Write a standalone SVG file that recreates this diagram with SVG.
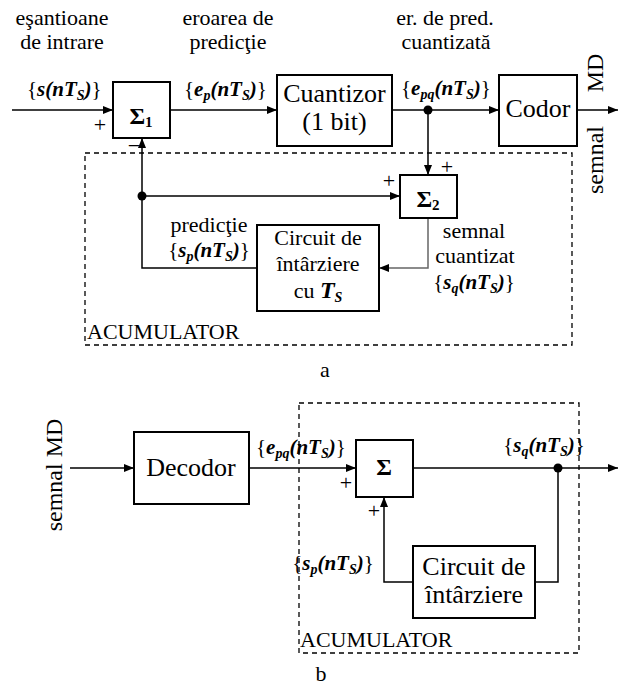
<svg xmlns="http://www.w3.org/2000/svg" width="618" height="687" viewBox="0 0 618 687" font-family="'Liberation Serif', 'Times New Roman', serif">
<defs>
<marker id="ah" viewBox="0 0 10 8" refX="10" refY="4" markerWidth="10" markerHeight="8" markerUnits="userSpaceOnUse" orient="auto">
<path d="M0,0 L10,4 L0,8 z" fill="#000"/>
</marker>
</defs>
<style>
svg, text, tspan { font-family: 'Liberation Serif', 'Times New Roman', serif; }
text{fill:#000}
.lb{font-size:22px}
.bx{font-size:26px}
.ml{font-size:21px}
.bi{font-weight:bold;font-style:italic}
.sb{font-size:14px}
.sg{font-size:24px;font-weight:bold}
.sgs{font-size:15px;font-weight:bold}
.box{fill:#fff;stroke:#000;stroke-width:2}
.ln{fill:none;stroke:#000;stroke-width:1.5}
.lg{fill:none;stroke:#666;stroke-width:1.5}
.dash{fill:none;stroke:#000;stroke-width:1.3;stroke-dasharray:5,4}
.m{text-anchor:middle}
</style>
<rect width="618" height="687" fill="#fff"/>

<!-- ===== Diagram a ===== -->
<g id="accumulator-a">
<rect class="dash" x="85" y="153" width="487" height="192"/>
<text class="lb" x="87" y="339">ACUMULATOR</text>
</g>

<g id="connectors-a">
<line class="ln" x1="12" y1="110" x2="113" y2="110" marker-end="url(#ah)"/>
<line class="ln" x1="170" y1="110" x2="277" y2="110" marker-end="url(#ah)"/>
<line class="ln" x1="392" y1="110" x2="499" y2="110" marker-end="url(#ah)"/>
<line class="ln" x1="577" y1="110" x2="618" y2="110" marker-end="url(#ah)"/>
<line class="ln" x1="428" y1="110" x2="428" y2="175" marker-end="url(#ah)"/>
<circle cx="428" cy="110" r="4.5" fill="#000"/>
<polyline class="ln" points="257,268 142,268 142,138" marker-end="url(#ah)"/>
<line class="ln" x1="142" y1="196" x2="400" y2="196" marker-end="url(#ah)"/>
<circle cx="142" cy="196" r="4.5" fill="#000"/>
<polyline class="lg" points="428,218 428,268 379,268" marker-end="url(#ah)"/>
</g>

<g id="labels-a">
<text class="lb m" x="62" y="25">eşantioane</text>
<text class="lb m" x="62" y="49">de intrare</text>
<text class="lb m" x="228" y="25">eroarea de</text>
<text class="lb m" x="228" y="49">predicţie</text>
<text class="lb m" x="445" y="25">er. de pred.</text>
<text class="lb m" x="446" y="49">cuantizată</text>
<text class="ml" x="27" y="96">{<tspan class="bi">s(nT</tspan><tspan class="bi sb" dy="4">S</tspan><tspan class="bi" dy="-4">)</tspan>}</text>
<text class="ml" x="184" y="96">{<tspan class="bi">e</tspan><tspan class="bi sb" dy="4">p</tspan><tspan class="bi" dy="-4">(nT</tspan><tspan class="bi sb" dy="4">S</tspan><tspan class="bi" dy="-4">)</tspan>}</text>
<text class="ml" x="401" y="95">{<tspan class="bi">e</tspan><tspan class="bi sb" dy="4">pq</tspan><tspan class="bi" dy="-4">(nT</tspan><tspan class="bi sb" dy="4">S</tspan><tspan class="bi" dy="-4">)</tspan>}</text>
<text class="lb m" x="100" y="132">+</text>
<text class="lb m" x="134" y="153">−</text>
<text class="lb m" x="447" y="174">+</text>
<text class="lb m" x="389" y="188">+</text>
<text class="lb m" x="209" y="232">predicţie</text>
<text class="ml m" x="209" y="257">{<tspan class="bi">s</tspan><tspan class="bi sb" dy="4">p</tspan><tspan class="bi" dy="-4">(nT</tspan><tspan class="bi sb" dy="4">S</tspan><tspan class="bi" dy="-4">)</tspan>}</text>
<text class="lb m" x="474" y="238">semnal</text>
<text class="lb m" x="475" y="263">cuantizat</text>
<text class="ml m" x="474" y="289">{<tspan class="bi">s</tspan><tspan class="bi sb" dy="4">q</tspan><tspan class="bi" dy="-4">(nT</tspan><tspan class="bi sb" dy="4">S</tspan><tspan class="bi" dy="-4">)</tspan>}</text>
<text transform="translate(603,73) rotate(-90)" text-anchor="middle" font-size="24">MD</text>
<text transform="translate(603,160) rotate(-90)" text-anchor="middle" font-size="24">semnal</text>
<text class="lb m" x="325" y="377">a</text>
</g>

<g id="sum1">
<rect class="box" x="113" y="82" width="57" height="56"/>
<text class="m" x="141" y="124"><tspan class="sg">Σ</tspan><tspan class="sgs" dy="3">1</tspan></text>
</g>
<g id="cuantizor">
<rect class="box" x="277" y="75" width="115" height="71"/>
<text class="bx m" x="334.5" y="102">Cuantizor</text>
<text class="bx m" x="334.5" y="130">(1 bit)</text>
</g>
<g id="codor">
<rect class="box" x="499" y="75" width="78" height="71"/>
<text class="bx m" x="538" y="117">Codor</text>
</g>
<g id="sum2">
<rect class="box" x="400" y="175" width="57" height="43"/>
<text class="m" x="428" y="207"><tspan class="sg">Σ</tspan><tspan class="sgs" dy="3">2</tspan></text>
</g>
<g id="delay-a">
<rect class="box" x="257" y="225" width="122" height="86"/>
<text class="lb m" x="318" y="245">Circuit de</text>
<text class="lb m" x="318" y="271">întârziere</text>
<text class="lb m" x="318" y="298">cu <tspan class="bi" font-size="24">T</tspan><tspan class="bi sb" dy="4">S</tspan></text>
</g>

<!-- ===== Diagram b ===== -->
<g id="accumulator-b">
<rect class="dash" x="299" y="403" width="280" height="250"/>
<text class="lb" x="300" y="647">ACUMULATOR</text>
</g>

<g id="connectors-b">
<line class="ln" x1="70" y1="468" x2="134" y2="468" marker-end="url(#ah)"/>
<line class="ln" x1="249" y1="468" x2="356" y2="468" marker-end="url(#ah)"/>
<line class="ln" x1="413" y1="468" x2="618" y2="468" marker-end="url(#ah)"/>
<circle cx="558" cy="468" r="4.5" fill="#000"/>
<polyline class="ln" points="558,468 558,582 535,582"/>
<polyline class="ln" points="413,582 384,582 384,497" marker-end="url(#ah)"/>
</g>

<g id="labels-b">
<text transform="translate(62,475) rotate(-90)" text-anchor="middle" font-size="24">semnal MD</text>
<text class="ml" x="256" y="454">{<tspan class="bi">e</tspan><tspan class="bi sb" dy="4">pq</tspan><tspan class="bi" dy="-4">(nT</tspan><tspan class="bi sb" dy="4">S</tspan><tspan class="bi" dy="-4">)</tspan>}</text>
<text class="ml m" x="544" y="452">{<tspan class="bi">s</tspan><tspan class="bi sb" dy="4">q</tspan><tspan class="bi" dy="-4">(nT</tspan><tspan class="bi sb" dy="4">S</tspan><tspan class="bi" dy="-4">)</tspan>}</text>
<text class="ml m" x="333" y="570">{<tspan class="bi">s</tspan><tspan class="bi sb" dy="4">p</tspan><tspan class="bi" dy="-4">(nT</tspan><tspan class="bi sb" dy="4">S</tspan><tspan class="bi" dy="-4">)</tspan>}</text>
<text class="lb m" x="346" y="490">+</text>
<text class="lb m" x="374" y="518">+</text>
<text class="lb m" x="321" y="681">b</text>
</g>

<g id="decodor">
<rect class="box" x="134" y="432" width="115" height="72"/>
<text class="bx m" x="191" y="476">Decodor</text>
</g>
<g id="sum-b">
<rect class="box" x="356" y="440" width="57" height="57"/>
<text class="sg m" x="384" y="475">Σ</text>
</g>
<g id="delay-b">
<rect class="box" x="413" y="546" width="122" height="72"/>
<text class="bx m" x="474" y="575">Circuit de</text>
<text class="bx m" x="474" y="603">întârziere</text>
</g>
</svg>
